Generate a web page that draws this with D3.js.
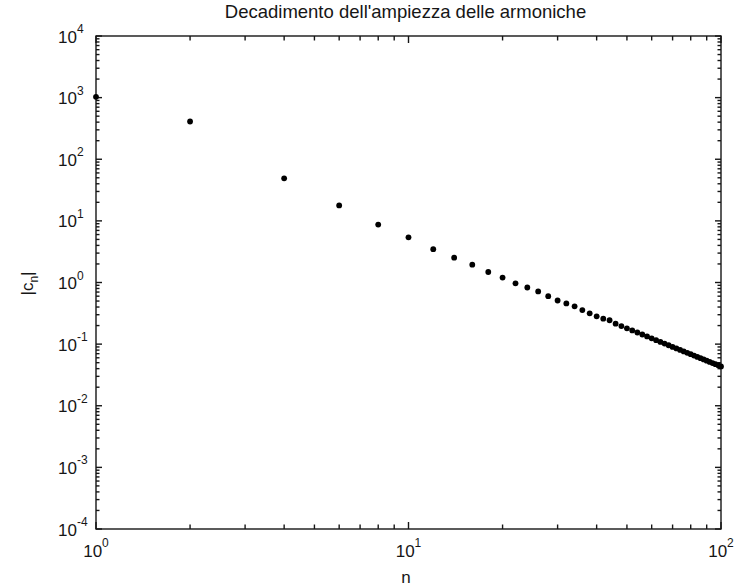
<!DOCTYPE html>
<html>
<head>
<meta charset="utf-8">
<script src="https://cdn.jsdelivr.net/npm/d3@7"></script>
<style>
  body { margin: 0; background: #fff; }
  svg { display: block; font-family: "Liberation Sans", Arial, sans-serif; }
</style>
</head>
<body>
<svg id="canvas"></svg>
<script>
let nValues = [1, 2, 4, 6, 8, 10, 12, 14, 16, 18, 20, 22, 24, 26, 28, 30, 32, 34, 36, 38, 40,
    42, 44, 46, 48, 50, 52, 54, 56, 58, 60, 62, 64, 66, 68, 70, 72, 74, 76, 78, 80,
    82, 84, 86, 88, 90, 92, 94, 96, 98, 100];
let cnValues = [1030, 410, 49, 17.8, 8.7, 5.4, 3.48, 2.53, 1.95, 1.48, 1.2, 0.97, 0.83, 0.716, 0.6, 0.51, 0.458, 0.41, 0.357, 0.316, 0.283,
    0.259, 0.244, 0.215, 0.1966, 0.1808, 0.1668, 0.1543, 0.1432, 0.1332, 0.1242, 0.116, 0.1086, 0.1019, 0.0958, 0.0902, 0.0851, 0.0804, 0.0762, 0.0722, 0.0686,
    0.0651, 0.0621, 0.0591, 0.0564, 0.0538, 0.0515, 0.0493, 0.0472, 0.0453, 0.0435];

let xMajor = [1, 10, 100];
let xExp = ['0', '1', '2'];
let yMajor = [1e-4, 1e-3, 1e-2, 1e-1, 1, 1e1, 1e2, 1e3, 1e4];
let yExp = ['-4', '-3', '-2', '-1', '0', '1', '2', '3', '4'];

let titleText = "Decadimento dell'ampiezza delle armoniche";
let xLabelText = 'n';

let width = 741;
let height = 586;
let plotLeft = 96, plotRight = 721, plotTop = 36, plotBottom = 529;
let ink = '#161616';
let lw = 1.4;

let canvas = d3.select('#canvas')
    .attr('width', width)
    .attr('height', height);

canvas.append('rect').attr('width', width).attr('height', height).attr('fill', '#fff');

let xScale = d3.scaleLog().domain([1, 100]).range([plotLeft, plotRight]);
let yScale = d3.scaleLog().domain([1e-4, 1e4]).range([plotBottom, plotTop]);

// minor ticks: 2..9 of every decade
let minorTicks = (lo, hi) => {
    let out = [];
    for (let e = lo; e < hi; e++) {
        for (let k = 2; k <= 9; k++) out.push(k * Math.pow(10, e));
    }
    return out;
};
let xMinor = minorTicks(0, 2);
let yMinor = minorTicks(-4, 4);

// box
canvas.append('rect')
    .attr('x', plotLeft).attr('y', plotTop)
    .attr('width', plotRight - plotLeft).attr('height', plotBottom - plotTop)
    .attr('fill', 'none').attr('stroke', ink).attr('stroke-width', lw);

// ticks pointing inwards on all four sides
let xTicks = xMinor.map(v => ({ v, len: 4.5 })).concat(xMajor.map(v => ({ v, len: 7 })));
let yTicks = yMinor.map(v => ({ v, len: 3.5 })).concat(yMajor.map(v => ({ v, len: 6 })));

let tickG = canvas.append('g').attr('stroke', ink).attr('stroke-width', lw);

tickG.selectAll('line.xb').data(xTicks).enter().append('line')
    .attr('x1', d => xScale(d.v)).attr('x2', d => xScale(d.v))
    .attr('y1', plotBottom).attr('y2', d => plotBottom - d.len);
tickG.selectAll('line.xt').data(xTicks).enter().append('line')
    .attr('x1', d => xScale(d.v)).attr('x2', d => xScale(d.v))
    .attr('y1', plotTop).attr('y2', d => plotTop + d.len);
tickG.selectAll('line.yl').data(yTicks).enter().append('line')
    .attr('y1', d => yScale(d.v)).attr('y2', d => yScale(d.v))
    .attr('x1', plotLeft).attr('x2', d => plotLeft + d.len);
tickG.selectAll('line.yr').data(yTicks).enter().append('line')
    .attr('y1', d => yScale(d.v)).attr('y2', d => yScale(d.v))
    .attr('x1', plotRight).attr('x2', d => plotRight - d.len);

// x tick labels 10^k
xMajor.forEach((v, i) => {
    let t = canvas.append('text')
        .attr('x', xScale(v))
        .attr('y', 557)
        .attr('text-anchor', 'middle')
        .attr('fill', ink)
        .style('font-size', '17px');
    t.append('tspan').text('10');
    t.append('tspan').attr('dy', -10).style('font-size', '12px').text(xExp[i]);
});

// y tick labels 10^k
yMajor.forEach((v, i) => {
    let y = yScale(v);
    let t = canvas.append('text')
        .attr('x', 58)
        .attr('y', y + 6.5)
        .attr('fill', ink)
        .style('font-size', '17px');
    t.append('tspan').text('10');
    t.append('tspan').attr('dy', -9.5).style('font-size', '12px').text(yExp[i]);
});

// points
canvas.append('g')
    .selectAll('circle')
    .data(nValues)
    .enter()
    .append('circle')
    .attr('cx', (n) => xScale(n))
    .attr('cy', (n, i) => yScale(cnValues[i]))
    .attr('r', 2.9)
    .attr('fill', '#000');

// title and labels
canvas.append('text')
    .attr('x', (plotLeft + plotRight) / 2 - 3)
    .attr('y', 18)
    .attr('text-anchor', 'middle')
    .attr('fill', ink)
    .style('font-size', '18.5px')
    .text(titleText);

canvas.append('text')
    .attr('x', 406)
    .attr('y', 583)
    .attr('text-anchor', 'middle')
    .attr('fill', ink)
    .style('font-size', '17px')
    .text(xLabelText);

let yl = canvas.append('text')
    .attr('transform', `translate(33, ${(plotTop + plotBottom) / 2 + 1}) rotate(-90)`)
    .attr('text-anchor', 'middle')
    .attr('fill', ink)
    .style('font-size', '17px');
yl.append('tspan').text('|c');
yl.append('tspan').attr('dy', 5).style('font-size', '12px').text('n');
yl.append('tspan').attr('dy', -5).text('|');
</script>
</body>
</html>
